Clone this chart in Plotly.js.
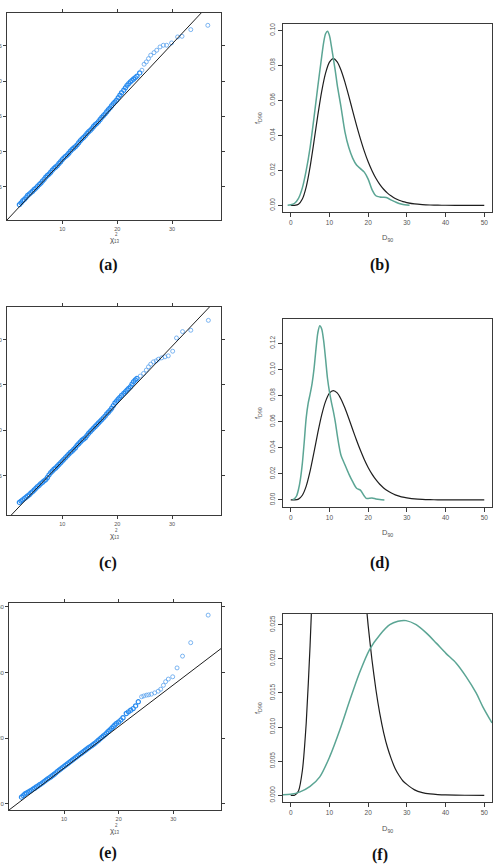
<!DOCTYPE html>
<html><head><meta charset="utf-8">
<script src="https://cdn.plot.ly/plotly-3.0.1.min.js"></script>
<style>html,body{margin:0;padding:0;background:#fff}#chart{width:501px;height:865px}</style>
</head><body><div id="chart"></div>
<script>
// ---------- QQ panel (a) ----------
const qqA_x = [2.2,2.5,2.8,3.1,3.4,3.7,4.0,4.3,4.6,4.9,5.2,5.5,5.8,6.1,6.4,6.7,7.0,7.3,7.6,7.9,8.2,8.5,8.8,9.1,9.4,9.7,10.0,10.3,10.6,10.9,11.2,11.5,11.8,12.1,12.4,12.7,13.0,13.3,13.6,13.9,14.2,14.5,14.8,15.1,15.4,15.7,16.0,16.3,16.6,16.9,17.2,17.5,17.8,18.1,18.4,18.7,19.0,19.3,19.6,
  19.9,20.2,20.5,20.8,21.2,21.5,21.8,22.1,22.4,22.7,23.0,23.3,23.6,24.1,24.5,24.9,25.3,25.7,26.1,26.7,27.2,27.8,28.4,29.0,29.9,31.0,31.8,33.4,36.5];
const qqA_y = [2.45,2.70,3.00,3.20,3.45,3.75,3.95,4.15,4.35,4.60,4.80,5.05,5.30,5.50,5.80,6.05,6.35,6.60,6.80,7.05,7.35,7.60,7.80,8.00,8.30,8.55,8.85,9.10,9.30,9.50,9.75,10.05,10.30,10.50,10.70,10.95,11.25,11.55,11.80,12.00,12.25,12.55,12.80,13.00,13.25,13.55,13.80,14.00,14.25,14.55,14.85,15.10,15.35,15.65,15.95,16.20,16.50,16.80,17.05,
  17.30,17.65,18.00,18.35,18.70,19.05,19.40,19.65,19.90,20.10,20.30,20.50,20.70,21.17,21.55,22.40,22.73,23.20,23.68,24.05,24.39,24.86,25.10,25.10,25.43,26.28,26.37,27.32,27.93];
const qqA_line = [0.32, 0.832];   // intercept, slope
const qqA_yticks = [5,10,15,20,25];
const qqA_dense = 73;             // points in the solid band (rest are sparse tail)

// ---------- QQ panel (c) ----------
const qqC_x = [2.2,2.5,2.8,3.1,3.4,3.7,4.0,4.3,4.6,4.9,5.2,5.5,5.8,6.1,6.4,6.7,7.0,7.3,7.6,7.9,8.2,8.5,8.8,9.1,9.4,9.7,10.0,10.3,10.6,10.9,11.2,11.5,11.8,12.1,12.4,12.7,13.0,13.3,13.6,13.9,14.2,14.5,14.8,15.1,15.4,15.7,16.0,16.3,16.6,16.9,17.2,17.5,17.8,18.1,18.4,18.7,19.0,19.3,19.6,
  19.9,20.2,20.5,20.8,21.2,21.5,21.8,22.1,22.4,22.7,22.97,23.3,23.6,24.2,24.8,25.3,25.7,26.1,26.6,27.1,27.5,28.1,28.7,29.3,30.1,30.8,31.9,33.4,36.6];
const qqC_y = [2.07,2.21,2.35,2.49,2.63,2.77,2.91,3.10,3.25,3.43,3.62,3.81,3.95,4.14,4.28,4.43,4.57,4.81,5.10,5.34,5.53,5.72,5.86,6.05,6.24,6.43,6.62,6.81,7.00,7.19,7.38,7.57,7.71,7.90,8.09,8.34,8.53,8.72,8.91,9.05,9.19,9.43,9.67,9.86,10.05,10.24,10.43,10.62,10.81,11.00,11.19,11.38,11.57,11.81,12.00,12.20,12.44,12.73,13.02,
  13.23,13.45,13.64,13.85,14.07,14.25,14.44,14.62,14.80,15.10,15.35,15.55,15.72,15.98,16.27,16.64,17.00,17.29,17.55,17.66,17.84,17.99,18.10,18.21,18.72,20.18,20.88,21.03,22.12];
const qqC_line = [0.22, 0.635];
const qqC_yticks = [5,10,15,20];
const qqC_dense = 72;

// ---------- QQ panel (e) ----------
const qqE_x = [2.2,2.5,2.8,3.1,3.4,3.7,4.0,4.3,4.6,4.9,5.2,5.5,5.8,6.1,6.4,6.7,7.0,7.3,7.6,7.9,8.2,8.5,8.8,9.1,9.4,9.7,10.0,10.3,10.6,10.9,11.2,11.5,11.8,12.1,12.4,12.7,13.0,13.3,13.6,13.9,14.2,14.5,14.8,15.1,15.4,15.7,16.0,16.3,16.6,16.9,17.2,17.5,17.8,18.1,18.4,18.7,19.0,19.3,
  19.6,20.0,20.4,20.8,21.4,21.8,22.2,22.66,23.1,23.6,24.2,24.6,25.1,25.5,26.0,26.6,27.25,27.7,28.2,28.6,29.1,29.9,30.7,31.7,33.2,36.4];
const qqE_y = [1.97,2.45,2.93,3.21,3.49,3.77,4.05,4.43,4.71,5.09,5.37,5.75,6.03,6.41,6.79,7.17,7.55,7.88,8.21,8.59,8.97,9.40,9.83,10.21,10.60,10.98,11.36,11.74,12.12,12.50,12.88,13.26,13.64,14.02,14.40,14.78,15.16,15.54,15.92,16.30,16.68,17.06,17.39,17.72,18.10,18.48,18.91,19.34,19.78,20.20,20.63,21.06,21.54,22.02,22.50,22.98,23.51,23.99,
  24.47,24.9,25.5,26.2,27.5,28.0,28.5,29.0,29.8,31.07,32.6,32.85,33.1,33.2,33.4,33.8,34.3,34.9,36.1,37.2,38.0,38.7,41.4,45.0,49.1,57.5];
const qqE_line = [-1.82, 1.2675];
const qqE_yticks = [0,20,40,60];
const qqE_dense = 68;

const qqXticks = [10,20,30];

// ---------- reference density (black) ----------
const refX = [0,1,2,3,4,5,6,7,8,9,10,11,12,13,14,15,16,17,18,19,20,21,22,23,24,25,26,27,28,29,30,32,34,36,38,40,45,50];
const refY = [0,0.00002,0.00064,0.0036,0.0106,0.0220,0.0364,0.0515,0.0651,0.0755,0.0818,0.0838,0.0820,0.0772,0.0704,0.0624,0.0540,0.0457,0.0380,0.0310,0.0249,0.0198,0.0155,0.0120,0.0092,0.0070,0.0053,0.0039,0.0029,0.0021,0.0016,0.0008,0.0004,0.0002,0.0001,0.00005,0.00001,0];

// ---------- sample densities (teal) ----------
const denB_x = [-0.8,0,1,2,3,4,5,6,7,8,8.5,9,9.5,10,10.5,11,11.5,12,13,14,15,16,17,18,19,20,21,22,23,24,25,26,27,28,29,30,30.7];
const denB_y = [0.0001,0.0003,0.0012,0.004,0.010,0.020,0.033,0.050,0.068,0.085,0.093,0.098,0.0994,0.097,0.091,0.084,0.077,0.069,0.056,0.042,0.033,0.027,0.023,0.021,0.019,0.015,0.009,0.0055,0.0048,0.0046,0.0042,0.0030,0.0020,0.0011,0.0005,0.0002,0.0001];

const denD_x = [0.5,1,1.5,2,2.5,3,3.5,4,4.5,5,5.5,6,6.5,7,7.5,8,8.5,9,9.5,10,10.5,11,11.5,12,12.5,13,14,15,16,17,18,19,19.5,20,21,22,23,24.2];
const denD_y = [0.0002,0.001,0.003,0.008,0.016,0.028,0.045,0.063,0.074,0.081,0.089,0.100,0.115,0.128,0.1335,0.131,0.122,0.108,0.093,0.083,0.075,0.068,0.060,0.050,0.041,0.034,0.027,0.020,0.014,0.009,0.0075,0.003,0.0012,0.0012,0.0015,0.0008,0.0003,0.0];

const denF_x = [-2,0,2.4,5,7.5,10.1,12.7,15.3,17.8,20.4,23,25.6,27.7,29.8,32.4,35,37.6,40.1,42.7,45.3,47.9,49.6,52];
const denF_y = [0.0001,0.00015,0.0005,0.0013,0.0027,0.0057,0.0096,0.0140,0.0180,0.0214,0.0235,0.0250,0.0255,0.0256,0.0250,0.0238,0.0223,0.0208,0.0194,0.0174,0.0150,0.0130,0.0106];

const denXticks = [0,10,20,30,40,50];
const captions = ['(a)','(b)','(c)','(d)','(e)','(f)'];

// ---------- layout helpers ----------
const W = 501, H = 865;
function dom(x0, x1, y0, y1){ return {x:[x0/W, x1/W], y:[1 - y1/H, 1 - y0/H]}; }
const AX = '#3a3a3a', LBL = '#555';
const FONT = 'Liberation Sans, Arial, sans-serif';

function qqXAxis(d, range, anchor){
  return {domain:d.x, range:range, anchor:anchor, tickvals:qqXticks, ticks:'outside', ticklen:3, tickwidth:1,
    tickcolor:AX, showline:true, linecolor:AX, linewidth:1, mirror:'ticks', showgrid:false, zeroline:false,
    tickfont:{size:5.5, color:LBL, family:FONT}, fixedrange:true};
}
function qqYAxis(d, range, anchor, tv){
  return {domain:d.y, range:range, anchor:anchor, tickvals:tv, ticks:'outside', ticklen:3, tickwidth:1,
    tickcolor:AX, showline:true, linecolor:AX, linewidth:1, mirror:'ticks', showgrid:false, zeroline:false,
    tickfont:{size:6, color:LBL, family:FONT}, fixedrange:true};
}
function dXAxis(d, anchor){
  return {domain:d.x, range:[-2,52], anchor:anchor, tickvals:denXticks, ticks:'outside', ticklen:4, tickwidth:1,
    tickcolor:AX, showline:true, linecolor:AX, linewidth:1.2, mirror:true, showgrid:false, zeroline:false,
    tickfont:{size:6.5, color:LBL, family:FONT}, fixedrange:true};
}
function dYAxis(d, range, anchor, dtick, fmt){
  return {domain:d.y, range:range, anchor:anchor, tick0:0, dtick:dtick, tickformat:fmt, tickangle:-90,
    ticks:'outside', ticklen:4, tickwidth:1, tickcolor:AX, showline:true, linecolor:AX, linewidth:1.2, mirror:true,
    showgrid:false, zeroline:false, tickfont:{size:6.5, color:LBL, family:FONT}, fixedrange:true};
}

const dA = dom(7,221,13,220), dB = dom(283,492,24,212);
const dC = dom(7,221,307,515), dD = dom(283,492,319,507);
const dE = dom(9,221,603,810), dF = dom(283,492,614,802);

const rA = {x:[-0.06,38.9], y:[0.27,29.68]};
const rC = {x:[-0.06,38.9], y:[0.68,23.59]};
const rE = {x:[-0.09,38.75], y:[-1.93,61.2]};

const BLUE = '#2a8cef', BLUE_T = '#5aa2ee', TEAL = '#5ba594';

function qqTraces(xs, ys, nd, ln, r, xa, ya){
  return [
    {x:xs.slice(0,nd), y:ys.slice(0,nd), xaxis:xa, yaxis:ya, mode:'markers', type:'scatter', hoverinfo:'skip',
     marker:{symbol:'circle-open', size:4.2, color:BLUE, line:{width:1.2, color:BLUE}}},
    {x:xs.slice(nd), y:ys.slice(nd), xaxis:xa, yaxis:ya, mode:'markers', type:'scatter', hoverinfo:'skip',
     marker:{symbol:'circle-open', size:4, color:BLUE_T, line:{width:0.8, color:BLUE_T}}},
    {x:[r.x[0]-1, r.x[1]+1], y:[ln[0]+ln[1]*(r.x[0]-1), ln[0]+ln[1]*(r.x[1]+1)], xaxis:xa, yaxis:ya,
     mode:'lines', type:'scatter', hoverinfo:'skip', line:{color:'#1e1e1e', width:1}}
  ];
}
function denTraces(xs, ys, xa, ya){
  return [
    {x:refX, y:refY, xaxis:xa, yaxis:ya, mode:'lines', type:'scatter', hoverinfo:'skip',
     line:{color:'#1e1e1e', width:1.2, shape:'spline', smoothing:0.6}},
    {x:xs, y:ys, xaxis:xa, yaxis:ya, mode:'lines', type:'scatter', hoverinfo:'skip',
     line:{color:TEAL, width:1.5, shape:'spline', smoothing:0.8}}
  ];
}

const data = [].concat(
  qqTraces(qqA_x, qqA_y, qqA_dense, qqA_line, rA, 'x', 'y'),
  denTraces(denB_x, denB_y, 'x2', 'y2'),
  qqTraces(qqC_x, qqC_y, qqC_dense, qqC_line, rC, 'x3', 'y3'),
  denTraces(denD_x, denD_y, 'x4', 'y4'),
  qqTraces(qqE_x, qqE_y, qqE_dense, qqE_line, rE, 'x5', 'y5'),
  denTraces(denF_x, denF_y, 'x6', 'y6')
);

function ann(px, py, text, size, opts){
  return Object.assign({xref:'paper', yref:'paper', x:px/W, y:1-py/H, text:text, showarrow:false,
    xanchor:'center', yanchor:'middle', font:{size:size, color:LBL, family:FONT}}, opts||{});
}
const capFont = {size:16, color:'#111', family:'Liberation Serif, Times New Roman, serif'};
const capPos = [[108,265],[380,265],[108,563],[380,563],[108,853],[380,855]];
const annotations = [];
captions.forEach((c,i)=>annotations.push(ann(capPos[i][0], capPos[i][1], '<b>'+c+'</b>', 16, {font:capFont})));
// QQ x titles (chi-square, 13 df)
[[112,239],[112,535],[112,830]].forEach(p=>{
  annotations.push(ann(p[0], p[1], 'χ', 8));
  annotations.push(ann(p[0]+4.5, p[1]-4.5, '2', 4.5));
  annotations.push(ann(p[0]+5, p[1]+2, '13', 4.5));
});
// density titles
[[387,238],[387,533],[387,829]].forEach(p=>annotations.push(ann(p[0], p[1], 'D<sub>90</sub>', 7.5)));
[[258,118],[258,413],[258,708]].forEach(p=>annotations.push(ann(p[0], p[1], 'f<sub>D90</sub>', 7.5, {textangle:-90})));

const layout = {
  width:W, height:H, margin:{l:0,r:0,t:0,b:0}, paper_bgcolor:'#fff', plot_bgcolor:'#fff', showlegend:false,
  xaxis: qqXAxis(dA, rA.x, 'y'),  yaxis: qqYAxis(dA, rA.y, 'x', qqA_yticks),
  xaxis2: dXAxis(dB, 'y2'),       yaxis2: dYAxis(dB, [-0.0038,0.1036], 'x2', 0.02, '.2f'),
  xaxis3: qqXAxis(dC, rC.x, 'y3'), yaxis3: qqYAxis(dC, rC.y, 'x3', qqC_yticks),
  xaxis4: dXAxis(dD, 'y4'),       yaxis4: dYAxis(dD, [-0.0054,0.1386], 'x4', 0.02, '.2f'),
  xaxis5: qqXAxis(dE, rE.x, 'y5'), yaxis5: qqYAxis(dE, rE.y, 'x5', qqE_yticks),
  xaxis6: dXAxis(dF, 'y6'),       yaxis6: dYAxis(dF, [-0.00098,0.02657], 'x6', 0.005, '.3f'),
  annotations: annotations
};

Plotly.newPlot('chart', data, layout, {staticPlot:true, displayModeBar:false});
</script></body></html>
